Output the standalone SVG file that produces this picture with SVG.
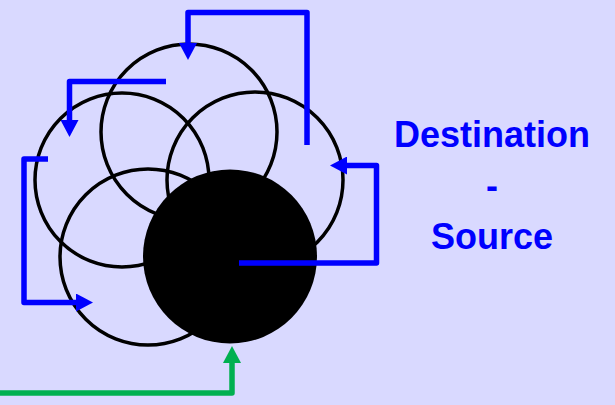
<svg xmlns="http://www.w3.org/2000/svg" width="615" height="405" viewBox="0 0 615 405">
<style>
.ring{fill:none;stroke:#000;stroke-width:3.5}
.blue{fill:none;stroke:#0000FF;stroke-width:5.5;stroke-linejoin:round}
.green{fill:none;stroke:#00B050;stroke-width:5.5;stroke-linejoin:round}
.lbl{font-family:"Liberation Sans",Arial,sans-serif;font-weight:bold;font-size:36px;fill:#0000FF;text-anchor:middle}
</style>
<defs>
<marker id="ab" markerUnits="userSpaceOnUse" markerWidth="18" markerHeight="18" refX="0" refY="9" orient="auto"><path d="M0,0 L17,9 L0,18 z" fill="#0000FF"/></marker>
<marker id="ag" markerUnits="userSpaceOnUse" markerWidth="18" markerHeight="18" refX="0" refY="9" orient="auto"><path d="M0,0 L17,9 L0,18 z" fill="#00B050"/></marker>
</defs>
<rect width="615" height="405" fill="#D9D9FF"/>
<g id="node-top"><circle class="ring" cx="189" cy="132" r="88"/></g>
<g id="node-left"><circle class="ring" cx="122" cy="180" r="87"/></g>
<g id="node-right"><circle class="ring" cx="255" cy="180" r="88"/></g>
<g id="node-bottomleft"><circle class="ring" cx="148" cy="257" r="88"/></g>
<g id="node-source"><circle cx="230" cy="256.5" r="87" fill="#000"/></g>
<g id="connectors">
<path class="blue" d="M307,145 V12.5 H188 V43" marker-end="url(#ab)"/>
<path class="blue" d="M166,81.5 H69.5 V120" marker-end="url(#ab)"/>
<path class="blue" d="M48,159 H24 V302.5 H76" marker-end="url(#ab)"/>
<path class="blue" d="M239,263 H376.5 V165.5 H347" marker-end="url(#ab)"/>
<path class="green" d="M0,393 H232 V363" marker-end="url(#ag)"/>
</g>
<g id="label">
<text class="lbl" x="492" y="147">Destination</text>
<text class="lbl" x="492" y="198">-</text>
<text class="lbl" x="492" y="249">Source</text>
</g>
</svg>
